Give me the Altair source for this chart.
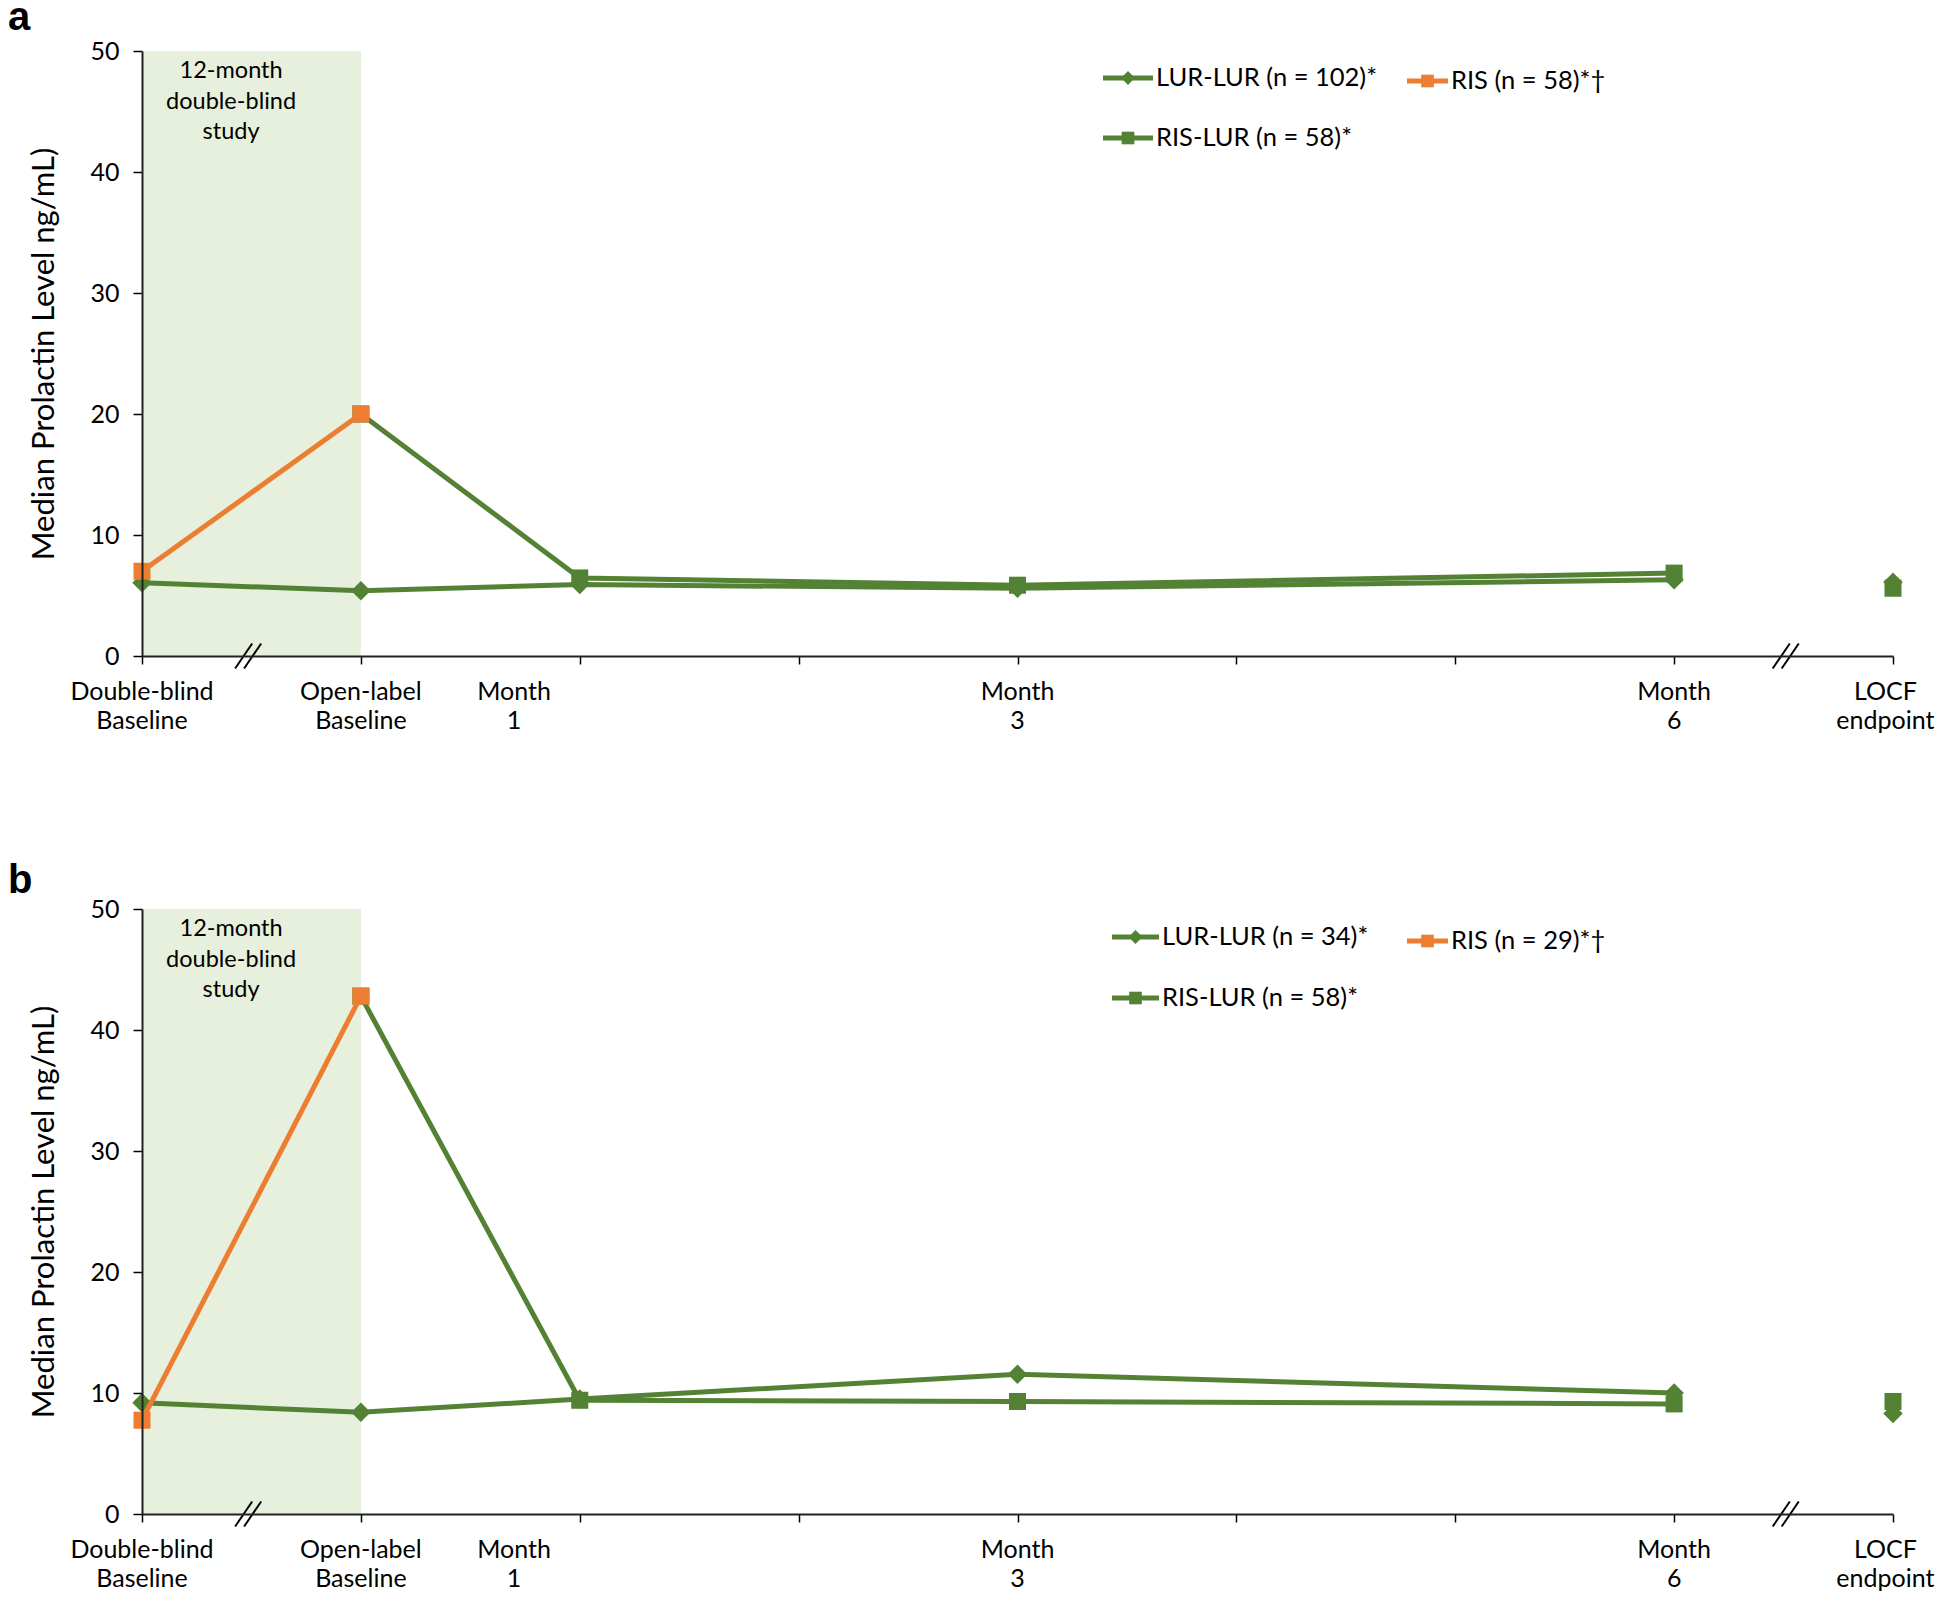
import altair as alt
import pandas as pd

# ---------------- data ----------------
timepoints = ["Double-blind Baseline", "Open-label Baseline", "Month 1", "Month 3", "Month 6", "LOCF endpoint"]
time_x = [0, 1, 2, 4, 7, 8]

a_lur_lur = [6.05, 5.4, 5.9, 5.6, 6.3, 6.1]
a_ris_lur = [None, 20.0, 6.45, 5.85, 6.85, 5.6]
a_ris = [7.0, 20.0, None, None, None, None]

b_lur_lur = [9.2, 8.4, 9.5, 11.55, 10.0, 8.3]
b_ris_lur = [None, 42.8, 9.4, 9.3, 9.1, 9.3]
b_ris = [7.75, 42.8, None, None, None, None]

a_legend = ["LUR-LUR (n = 102)*", "RIS (n = 58)*\u2020", "RIS-LUR (n = 58)*"]
b_legend = ["LUR-LUR (n = 34)*", "RIS (n = 29)*\u2020", "RIS-LUR (n = 58)*"]

tick_positions = list(range(9))
tick_label_x = [0, 1, 1.7, 4, 7, 7.965]
tick_label_top = ["Double-blind", "Open-label", "Month", "Month", "Month", "LOCF"]
tick_label_bottom = ["Baseline", "Baseline", "1", "3", "6", "endpoint"]

y_ticks = [0, 10, 20, 30, 40, 50]
shade_span = [0, 1]
shade_lines = ["12-month", "double-blind", "study"]
shade_line_y = [48.35, 45.8, 43.3]
shade_text_x = 0.407
break_x = [0.485, 7.51]

# ---------------- style ----------------
FONT = "Lato"
GREEN = "#548235"
ORANGE = "#ED7D31"
SHADE = "#E6F0DC"
W, H = 1751, 605

xs = alt.Scale(domain=[0, 8], nice=False, zero=False)
ys = alt.Scale(domain=[0, 50], nice=False)
xa = alt.Axis(values=tick_positions, labels=False, title=None, grid=False, tickSize=8,
              tickColor="black", tickWidth=1.5, domainColor="#222222", domainWidth=2, zindex=1)
ya = alt.Axis(values=y_ticks, title="Median Prolactin Level ng/mL)", titleFont=FONT, titleFontSize=31,
              titleFontWeight="normal", titleColor="black", titleX=-82, titleY=H / 2, titleAngle=270,
              titleBaseline="bottom", titleAlign="center", labelFont=FONT, labelFontSize=25,
              labelColor="black", labelPadding=14, tickSize=9, tickColor="black", tickWidth=1.5,
              domainColor="#222222", domainWidth=2, grid=False, zindex=1)


def X(field):
    return alt.X(field, scale=xs, axis=xa)


def Y(field):
    return alt.Y(field, scale=ys, axis=ya)


def series_df(vals, name):
    rows = []
    for t, x, v in zip(timepoints, time_x, vals):
        if v is None:
            continue
        rows.append({"series": name, "timepoint": t, "x": x, "y": v,
                     "connected": t != "LOCF endpoint"})
    return pd.DataFrame(rows)


def panel(lur, rislur, ris, legend_labels, letter, letter_y, legend_pos):
    d_lur = series_df(lur, "LUR-LUR")
    d_rl = series_df(rislur, "RIS-LUR")
    d_ris = series_df(ris, "RIS")
    green_lines = pd.concat([d_lur, d_rl])
    green_lines = green_lines[green_lines["connected"]]

    shade = alt.Chart(pd.DataFrame({"x0": [shade_span[0]], "x1": [shade_span[1]],
                                    "y0": [y_ticks[0]], "y1": [y_ticks[-1]]})).mark_rect(
        color=SHADE).encode(x=X("x0:Q"), x2="x1:Q", y=Y("y0:Q"), y2="y1:Q")

    shade_text = alt.Chart(pd.DataFrame({"t": shade_lines, "y": shade_line_y,
                                         "x": [shade_text_x] * 3})).mark_text(
        font=FONT, fontSize=23.5, align="center", baseline="middle", color="black").encode(
        x=X("x:Q"), y=Y("y:Q"), text="t:N")

    brows = []
    for bx in break_x:
        for k in (-0.5, 0.5):
            brows.append({"x1": bx + k * 0.041 - 0.039, "x2": bx + k * 0.041 + 0.039,
                          "y1": -1.03, "y2": 1.03})
    breaks = alt.Chart(pd.DataFrame(brows)).mark_rule(color="black", strokeWidth=2).encode(
        x=X("x1:Q"), x2="x2:Q", y=Y("y1:Q"), y2="y2:Q")

    g_lines = alt.Chart(green_lines).mark_line(strokeWidth=5, color=GREEN).encode(
        x=X("x:Q"), y=Y("y:Q"), detail="series:N", order="x:Q")
    p_rl = alt.Chart(d_rl).mark_point(filled=True, opacity=1, shape="square", size=290,
                                      color=GREEN).encode(x=X("x:Q"), y=Y("y:Q"))
    p_lur = alt.Chart(d_lur).mark_point(filled=True, opacity=1, shape="diamond", size=380,
                                        color=GREEN).encode(x=X("x:Q"), y=Y("y:Q"))
    o_line = alt.Chart(d_ris).mark_line(strokeWidth=5, color=ORANGE).encode(
        x=X("x:Q"), y=Y("y:Q"), order="x:Q")
    o_pts = alt.Chart(d_ris).mark_point(filled=True, opacity=1, shape="square", size=290,
                                        color=ORANGE).encode(x=X("x:Q"), y=Y("y:Q"))

    lab_df = pd.DataFrame({"x": tick_label_x, "top": tick_label_top, "bottom": tick_label_bottom})
    lab1 = alt.Chart(lab_df).mark_text(font=FONT, fontSize=25, align="center", baseline="middle",
                                       color="black").encode(x=X("x:Q"), y=alt.value(H + 36), text="top:N")
    lab2 = alt.Chart(lab_df).mark_text(font=FONT, fontSize=25, align="center", baseline="middle",
                                       color="black").encode(x=X("x:Q"), y=alt.value(H + 65), text="bottom:N")

    one = pd.DataFrame({"k": [0]})
    leg_colors = [GREEN, ORANGE, GREEN]
    leg_shapes = ["diamond", "square", "square"]
    leg_sizes = [190, 160, 160]
    legend = []
    for label, col, shp, sz, (x0, x1, yy) in zip(legend_labels, leg_colors, leg_shapes, leg_sizes, legend_pos):
        legend.append(alt.Chart(one).mark_rule(color=col, strokeWidth=5).encode(
            x=alt.value(x0), x2=alt.value(x1), y=alt.value(yy)))
        legend.append(alt.Chart(one).mark_point(filled=True, opacity=1, shape=shp, size=sz, color=col).encode(
            x=alt.value((x0 + x1) / 2), y=alt.value(yy)))
        legend.append(alt.Chart(one).mark_text(font=FONT, fontSize=25.5, align="left", baseline="middle",
                                               color="black").encode(
            x=alt.value(x1 + 3), y=alt.value(yy), text=alt.value(label)))

    letter_mark = alt.Chart(one).mark_text(font="Liberation Sans", fontWeight="bold", fontSize=40,
                                           align="left", baseline="alphabetic", color="black").encode(
        x=alt.value(-134), y=alt.value(letter_y), text=alt.value(letter))

    return alt.layer(shade, shade_text, breaks, g_lines, p_rl, p_lur, o_line, o_pts, lab1, lab2,
                     *legend, letter_mark).properties(width=W, height=H)


panel_a = panel(a_lur_lur, a_ris_lur, a_ris, a_legend, "a", -21,
                [(961, 1011, 27), (1265, 1306, 30), (961, 1011, 87)])
panel_b = panel(b_lur_lur, b_ris_lur, b_ris, b_legend, "b", -16,
                [(970, 1017, 28), (1265, 1306, 32), (970, 1017, 89)])

chart = alt.vconcat(panel_a, panel_b, spacing=253, bounds="flush").properties(
    padding={"left": 0, "top": -10, "right": 0, "bottom": -1},
    background="white"
).configure_view(stroke=None)

chart.save("out.html", embed_options={"renderer": "svg", "actions": False})
